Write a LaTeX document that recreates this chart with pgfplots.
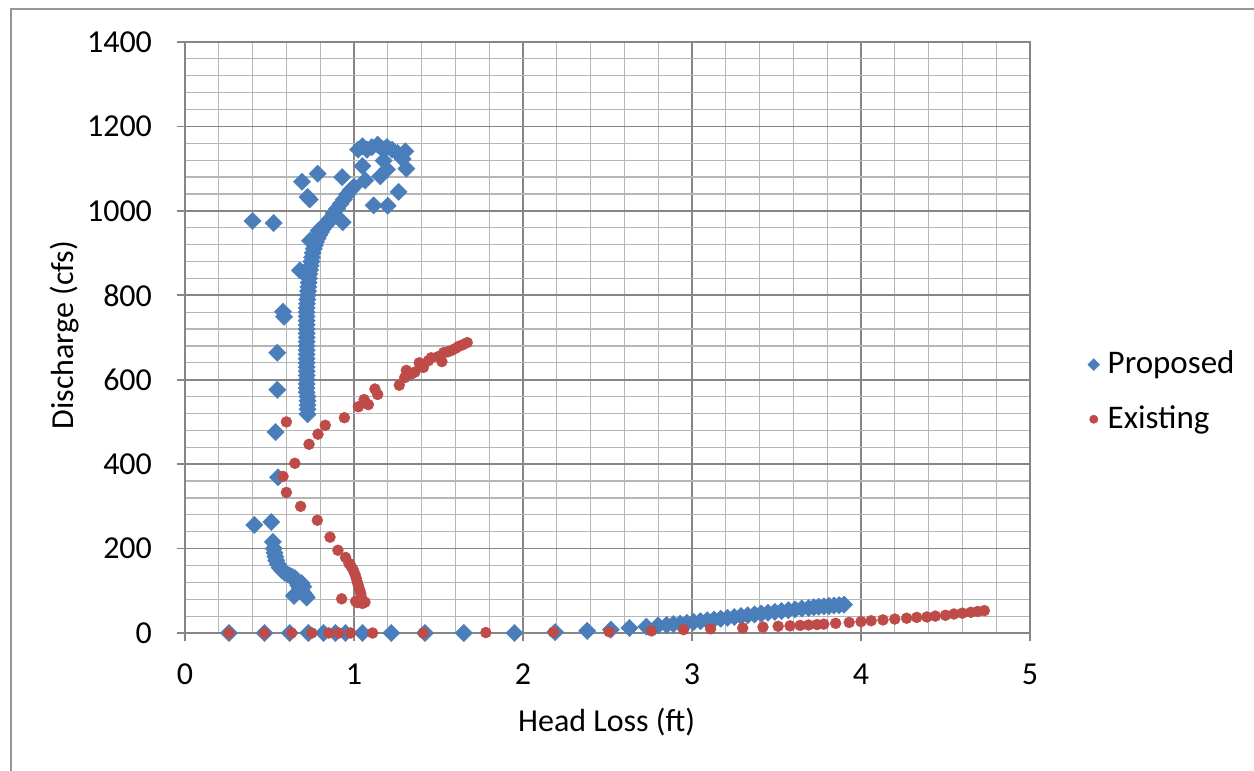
\documentclass[border=0pt]{standalone}
\usepackage{fontspec}
\setmainfont{Carlito}
\usepackage{pgfplots}
\pgfplotsset{compat=1.18}
\definecolor{blueS}{RGB}{74,126,187}
\definecolor{redS}{RGB}{190,75,72}
\definecolor{majgray}{RGB}{134,134,134}
\definecolor{mingray}{RGB}{182,182,182}
\definecolor{framegray}{RGB}{150,150,150}
\begin{document}
\fontsize{16bp}{19bp}\selectfont
\begin{tikzpicture}
\path[use as bounding box] (-92.5bp,-69bp) rectangle (534.5bp,316.5bp);
\draw[framegray, line width=0.8bp] (-87bp,-75bp) -- (-87bp,312bp) -- (540bp,312bp);
\begin{axis}[
  at={(0,0)}, anchor=south west,
  scale only axis, width=422.5bp, height=295.5bp,
  xmin=0, xmax=5, ymin=0, ymax=1400,
  xtick={0,1,2,3,4,5}, ytick={0,200,400,600,800,1000,1200,1400},
  minor x tick num=4, minor y tick num=4,
  grid=both,
  major grid style={majgray, line width=0.8bp},
  minor grid style={mingray, line width=0.6bp},
  axis line style={majgray, line width=0.8bp},
  tick align=outside, major tick length=4bp, minor tick length=0pt,
  tick style={majgray, line width=0.8bp},
  tick pos=left,
  /pgf/number format/assume math mode=true,
  /pgf/number format/1000 sep={},
  yticklabel style={xshift=-7bp},
  xticklabel style={yshift=-6bp},
  xlabel={Head Loss (ft)}, ylabel={Discharge (cfs)},
  xlabel style={at={(axis description cs:0.499,-0.1506)}, anchor=center},
  ylabel style={at={(axis description cs:-0.142,0.504)}, anchor=center},
  legend style={draw=none, fill=none, at={(axis description cs:1.068,0.408)}, anchor=west,
    row sep=9.5bp, column sep=2bp, inner sep=0pt, cells={anchor=west}, font=\fontsize{16.5bp}{19bp}\selectfont},
  legend cell align=left,
  legend image code/.code={\draw[#1, mark size=2.1bp] plot coordinates {(0bp,0bp)};},
]
\addplot[only marks, color=blueS, mark=square*, mark size=3.05bp,
  mark options={rotate=45, fill=blueS, draw=blueS, line width=0.2bp}] coordinates {
(0.26,0)(0.47,0)(0.62,0)(0.73,0)(0.82,0)(0.89,0)(0.95,0)(1.05,0)(1.22,0)(1.42,0)(1.65,0)(1.95,0)
(2.19,2)(2.38,5)(2.52,8)(2.63,12)(2.73,15)(2.80,18)
(2.85,19)(2.89,21)(2.93,22)(2.97,24)(3.01,26)(3.05,28)(3.09,30)(3.13,32)(3.17,34)(3.21,36)
(3.25,38)(3.29,40)(3.33,42)(3.37,44)(3.41,46)(3.45,48)(3.49,50)(3.53,52)(3.57,54)(3.61,56)
(3.65,58)(3.69,59)(3.72,61)(3.75,62)(3.78,63)(3.81,64)(3.84,65)(3.87,66)(3.90,67)
(0.41,256)(0.51,263)
(0.52,216)(0.525,200)(0.53,190)(0.535,181)(0.54,172)(0.55,163)(0.56,155)(0.575,148)(0.59,143)
(0.605,139)(0.62,136)(0.635,133)(0.65,130)(0.66,126)(0.665,119)(0.67,113)(0.68,107)(0.69,101)
(0.70,95)(0.71,90)(0.72,84)(0.645,88)(0.66,95)(0.675,100)(0.70,110)(0.69,118)
(0.55,369)(0.536,476)(0.546,576)(0.546,664)(0.58,761)(0.586,749)
(0.725,518)(0.725,530)(0.725,540)(0.725,550)(0.725,560)(0.72,570)(0.72,580)(0.72,590)(0.72,600)
(0.72,610)(0.72,620)(0.72,630)(0.72,640)(0.72,650)(0.72,660)(0.72,670)(0.72,680)(0.72,690)
(0.72,700)(0.72,710)(0.72,720)(0.72,730)(0.72,740)(0.72,750)(0.72,760)(0.72,770)(0.722,780)
(0.724,790)(0.726,800)(0.728,810)(0.73,820)(0.732,830)(0.734,840)(0.736,850)(0.74,860)
(0.744,870)(0.748,880)(0.752,890)(0.756,900)(0.762,910)(0.768,918)(0.775,926)(0.785,935)
(0.795,943)(0.805,950)(0.815,957)(0.825,963)(0.84,970)(0.86,982)(0.88,994)(0.90,1005)
(0.92,1016)(0.94,1027)(0.96,1039)(0.98,1049)(1.00,1057)
(0.68,859)(0.74,929)(0.79,953)(0.81,961)(0.84,969)
(1.024,1145)(1.05,1153)(1.077,1145)(1.106,1151)(1.14,1157)(1.166,1147)(1.195,1151)(1.225,1145)
(1.258,1137)(1.304,1141)(1.288,1123)(1.31,1100)(1.175,1119)(1.195,1098)(1.156,1082)(1.05,1106)
(1.067,1072)(1.264,1045)(1.116,1013)(1.20,1012)(0.93,1080)(0.785,1088)(0.692,1069)(0.738,1027)
(0.725,1033)(0.40,976)(0.525,971)(0.933,973)
};
\addlegendentry{Proposed}
\addplot[only marks, color=redS, mark=*, mark size=2.75bp,
  mark options={fill=redS, draw=redS, line width=0.2bp}] coordinates {
(0.26,0)(0.47,0)(0.63,0)(0.75,0)(0.85,0)(0.91,0)(0.98,0)(1.11,0)(1.41,0)(1.78,1)(2.18,2)(2.51,3)
(2.76,5)(2.95,8)(3.11,10)(3.30,12)(3.42,14)(3.51,16)(3.58,17)(3.64,18)(3.69,19)(3.74,20)(3.78,21)
(3.85,23)(3.93,25)(4.00,27)(4.06,29)(4.13,31)(4.20,33)(4.27,35)(4.33,37)(4.39,38)(4.44,40)
(4.50,42)(4.55,45)(4.60,47)(4.65,49)(4.69,51)(4.73,53)
(0.927,81)(1.01,75)(1.02,72)(1.045,76)(1.065,73)(1.05,70)(1.043,86)(1.04,94)(1.034,102)
(1.026,112)(1.02,120)(1.014,129)(1.006,139)(0.996,149)(0.984,157)(0.97,165)(0.95,179)
(0.905,196)(0.858,227)(0.783,267)(0.684,300)(0.60,333)(0.58,371)(0.65,402)(0.734,447)
(0.787,471)(0.83,492)(0.60,500)(0.943,510)(1.026,536)(1.085,541)(1.06,553)(1.14,565)
(1.124,578)(1.268,587)(1.30,605)(1.31,622)(1.34,614)(1.36,618)(1.386,640)(1.41,629)
(1.44,645)(1.457,652)(1.52,643)(1.50,655)(1.53,664)(1.555,666)(1.575,669)(1.60,674)
(1.62,679)(1.645,683)(1.67,688)
};
\addlegendentry{Existing}
\end{axis}
\end{tikzpicture}
\end{document}
